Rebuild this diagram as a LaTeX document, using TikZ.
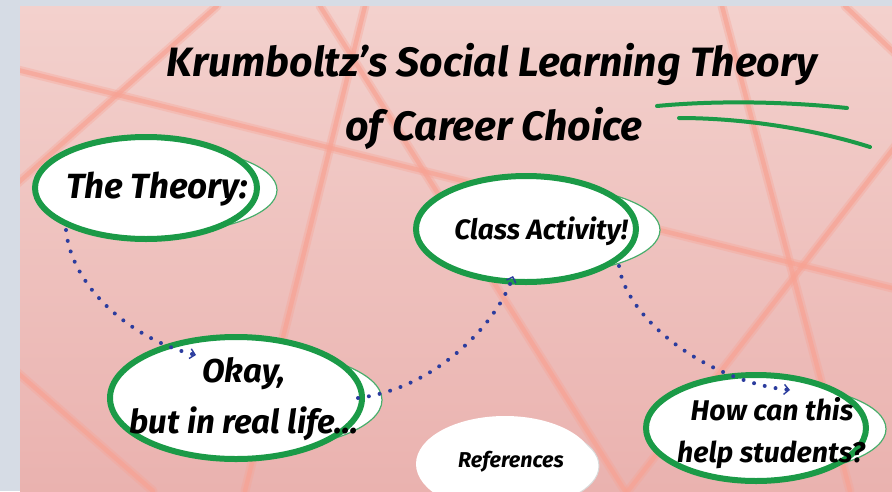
\documentclass[tikz,border=0pt]{standalone}
\usepackage{fontspec}
\setmainfont{Fira Sans}
\usetikzlibrary{arrows.meta,shapes.geometric,calc}
\definecolor{bordergray}{HTML}{D6DCE5}
\definecolor{pinktop}{HTML}{F3D1CD}
\definecolor{pinkbot}{HTML}{EAB2AF}
\definecolor{linepeach}{HTML}{F8A293}
\definecolor{mygreen}{HTML}{1B9A47}
\definecolor{arrowblue}{HTML}{2B3C9E}
\begin{document}
\begin{tikzpicture}[x=1pt,y=-1pt,
  bubble/.style={ellipse, draw=mygreen, line width=6pt, fill=white, inner sep=0pt},
  shadowbub/.style={ellipse, draw=mygreen!80, line width=1.2pt, fill=white, inner sep=0pt},
  lbl/.style={font=\bfseries\itshape, text=black, inner sep=0pt, anchor=base},
  bgglow/.style={draw=linepeach, draw opacity=0.35, line width=9pt, line cap=round},
  bgline/.style={draw=linepeach, draw opacity=0.65, line width=4.5pt, line cap=round},
  uline/.style={draw=mygreen, line width=4pt, line cap=round},
  flow/.style={draw=arrowblue, line width=4pt, line cap=round, dash pattern=on 0pt off 11pt,
    -{Straight Barb[line width=1.4pt,length=5pt,width=10pt]}}
]
\useasboundingbox (0,0) rectangle (892,491);
% background
\fill[bordergray] (0,0) rectangle (892,491);
\shade[top color=pinktop, bottom color=pinkbot] (20,6) rectangle (892,491);
\begin{scope}
\clip (20,6) rectangle (892,491);
\foreach \st in {bgglow,bgline}{
\draw[\st] (10,68) -- (900,290);
\draw[\st] (217,6) -- (10,190);
\draw[\st] (365,6) -- (245,491);
\draw[\st] (320,6) -- (625,491);
\draw[\st] (722,6) -- (850,491);
\draw[\st] (900,140) -- (628,491);
\draw[\st] (845,6) -- (900,58);
\draw[\st] (10,366) -- (153,491);
}
\end{scope}

% title
\node[lbl, font=\fontsize{41}{46}\selectfont\bfseries\itshape] (title1) at (492,76) {Krumboltz's Social Learning Theory};
\node[lbl, font=\fontsize{41}{46}\selectfont\bfseries\itshape] (title2) at (494,140) {of Career Choice};
\draw[uline] (657,106) .. controls (720,100) and (790,102) .. (847,108);
\draw[uline] (679,118) .. controls (740,118) and (810,128) .. (870,147);

% bubbles
\node[shadowbub, minimum width=234pt, minimum height=86pt] (theoryshadow) at (160,190) {};
\node[bubble, minimum width=222pt, minimum height=102pt] (theory) at (146,188) {};
\node[shadowbub, minimum width=238pt, minimum height=88pt] (classshadow) at (541,230) {};
\node[bubble, minimum width=220pt, minimum height=106pt] (class) at (526,229) {};
\node[shadowbub, minimum width=264pt, minimum height=100pt] (okayshadow) at (250,400) {};
\node[bubble, minimum width=252pt, minimum height=122pt] (okay) at (236,398) {};
\node[shadowbub, minimum width=230pt, minimum height=88pt] (howshadow) at (771,429) {};
\node[bubble, minimum width=220pt, minimum height=106pt] (how) at (756,428) {};
\node[ellipse, draw=black!15, line width=1pt, fill=white, minimum width=172pt, minimum height=84pt] (refshadow) at (513,466) {};
\node[ellipse, fill=white, minimum width=178pt, minimum height=96pt, inner sep=0pt] (refs) at (505,464) {};

% labels
\node[lbl, font=\fontsize{35}{40}\selectfont\bfseries\itshape] (theorytxt) at (157,198) {The Theory:};
\node[lbl, font=\fontsize{28}{32}\selectfont\bfseries\itshape] (classtxt) at (541,239) {Class Activity!};
\node[lbl, font=\fontsize{33}{38}\selectfont\bfseries\itshape] (okaytxt1) at (244,382) {Okay,};
\node[lbl, font=\fontsize{33}{38}\selectfont\bfseries\itshape] (okaytxt2) at (244,433) {but in real life...};
\node[lbl, font=\fontsize{28.5}{32}\selectfont\bfseries\itshape] (howtxt1) at (772,420) {How can this};
\node[lbl, font=\fontsize{28.5}{32}\selectfont\bfseries\itshape] (howtxt2) at (771,462) {help students?};
\node[lbl, font=\fontsize{21.5}{25}\selectfont\bfseries\itshape] (refstxt) at (511,467) {References};

% connectors
\draw[flow] ($(theory.center)+(-80,42)$) .. controls +(6,60) and +(-60,-14) .. ($(okay.center)+(-40,-43)$);
\draw[flow] ($(okay.center)+(122,0)$) .. controls +(80,-10) and +(-15,45) .. ($(class.center)+(-13,47)$);
\draw[flow] ($(class.center)+(93,37)$) .. controls +(8,55) and +(-80,-8) .. ($(how.center)+(34,-38)$);
\end{tikzpicture}
\end{document}
